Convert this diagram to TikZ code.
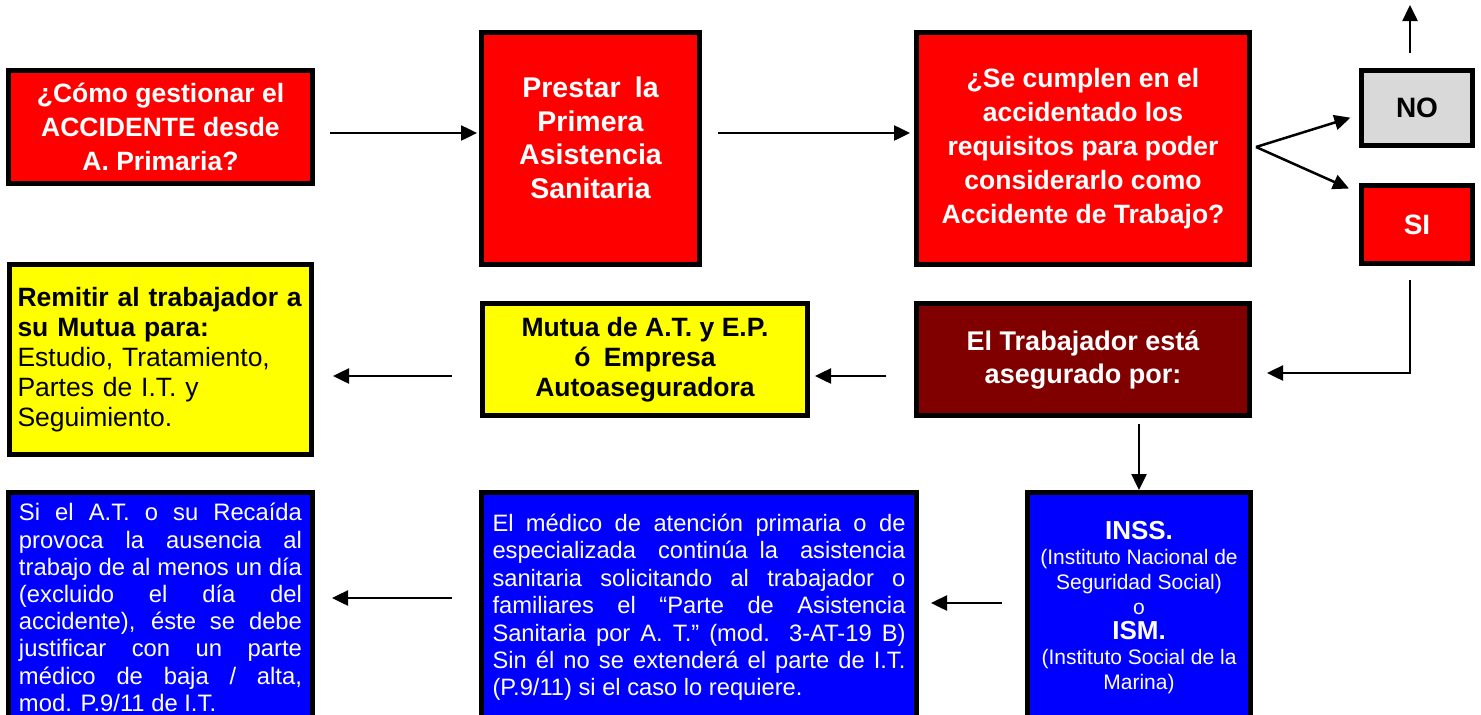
\documentclass[tikz,border=0pt]{standalone}
\usepackage{fontspec}
\setmainfont{Liberation Sans}
\usetikzlibrary{arrows.meta}
\definecolor{rojo}{HTML}{FF0000}
\definecolor{amarillo}{HTML}{FFFF00}
\definecolor{azul}{HTML}{0000FF}
\definecolor{granate}{HTML}{800000}
\definecolor{gris}{HTML}{D9D9D9}
\tikzset{
    caja/.style =   {rectangle,
                    draw=black,
                    line width=5pt,
                    inner sep=0pt,
                    align=center},
    roja/.style =   {caja,
                    fill=rojo,
                    text=white,
                    font=\fontsize{26.5}{34}\selectfont\bfseries},
    amarilla/.style = {caja,
                    fill=amarillo,
                    text=black,
                    font=\fontsize{26.5}{30}\selectfont},
    oscura/.style = {caja,
                    fill=granate,
                    text=white,
                    font=\fontsize{27}{33}\selectfont\bfseries},
    azulada/.style = {caja,
                    fill=azul,
                    text=white,
                    font=\fontsize{23.7}{27.4}\selectfont},
    gris/.style =   {caja,
                    fill=gris,
                    text=black,
                    font=\fontsize{28}{34}\selectfont\bfseries},
    -,
    flecha/.style = {->,
                    line width=2.5pt},
    >={Triangle[length=16pt,width=15pt]}}
\begin{document}
\begin{tikzpicture}[x=1pt,y=-1pt]
            \useasboundingbox (0,0) rectangle (1481,715);

            \node[roja,minimum width=304pt,minimum height=113pt]       (pregunta) at (160.5,127)    {¿Cómo gestionar el\\ACCIDENTE desde\\A. Primaria?};
            \node[roja,minimum width=218pt,minimum height=232pt,
                  font=\fontsize{28.5}{33.5}\selectfont\bfseries]      (prestar)  at (590.5,148.5)  {Prestar\enspace la\\Primera\\Asistencia\\Sanitaria\\[-11.5pt]};
            \node[roja,minimum width=333pt,minimum height=232pt]       (requisitos) at (1083,148.5) {¿Se cumplen en el\\accidentado los\\requisitos para poder\\considerarlo como\\Accidente de Trabajo?};
            \node[gris,minimum width=111pt,minimum height=75pt]        (no)       at (1417,108)     {NO};
            \node[roja,minimum width=111pt,minimum height=78pt,
                  font=\fontsize{28}{34}\selectfont\bfseries]          (si)       at (1417,224.5)   {SI};

            \node[amarilla,minimum width=302pt,minimum height=190pt,
                  text width=286pt,align=left]                         (remitir)  at (160.5,359.5)  {\textbf{Remitir al trabajador a}\\\textbf{su Mutua para:}\\Estudio, Tratamiento,\\Partes de I.T. y\\Seguimiento.};
            \node[amarilla,minimum width=325pt,minimum height=112pt,
                  font=\fontsize{26.5}{30}\selectfont\bfseries]        (mutua)    at (645,359.5)    {Mutua de A.T. y E.P.\\ó\enspace Empresa\\Autoaseguradora};
            \node[oscura,minimum width=333pt,minimum height=112pt]     (asegurado) at (1083,359.5)  {El Trabajador está\\asegurado por:};

            \node[azulada,minimum width=304pt,minimum height=230pt,
                  text width=283pt,align=justify,
                  font=\fontsize{23.8}{27.2}\selectfont]               (baja)     at (160.5,607.5)  {Si el A.T. o su Recaída\linebreak provoca la ausencia al\linebreak trabajo de al menos un día\linebreak (excluido el día del\linebreak accidente), éste se debe\linebreak justificar con un parte\linebreak médico de baja / alta,\linebreak mod. P.9/11 de I.T.};
            \node[azulada,minimum width=435pt,minimum height=230pt,
                  text width=413pt,align=justify]                      (medico)   at (699,607.5)    {El médico de atención primaria o de\linebreak especializada continúa\enspace la asistencia\linebreak sanitaria solicitando al trabajador o\linebreak familiares el “Parte de Asistencia\linebreak Sanitaria por A. T.” (mod. 3-AT-19 B)\linebreak Sin él no se extenderá el parte de I.T.\linebreak (P.9/11) si el caso lo requiere.};
            \node[azulada,minimum width=223pt,minimum height=230pt,
                  font=\fontsize{21}{25}\selectfont]                   (inss)     at (1139,607.5)   {{\fontsize{26}{25}\selectfont\bfseries INSS.}\\(Instituto Nacional de\\Seguridad Social)\\o\\{\fontsize{26}{25}\selectfont\bfseries ISM.}\\(Instituto Social de la\\Marina)};

            \coordinate (bif)    at (1256,147);
            \coordinate (salida) at (1410,5);

            \draw[flecha,shorten <=15pt,shorten >=2pt]  ([yshift=-6pt]pregunta.east) -- ([yshift=15.5pt]prestar.west);
            \draw[flecha,shorten <=16pt,shorten >=4pt]  ([yshift=15.5pt]prestar.east) -- ([yshift=15.5pt]requisitos.west);
            \draw[flecha,shorten >=9pt]                 (bif) -- ([yshift=-7pt]no.west);
            \draw[flecha,shorten >=11pt]                (bif) -- ([yshift=31.5pt]si.west);
            \draw[flecha,shorten <=15pt]                ([xshift=-7pt]no.north) -- (salida);
            \draw[flecha,shorten <=14pt,shorten >=15pt] ([xshift=-7pt]si.south) |- ([yshift=-13.5pt]asegurado.east);
            \draw[flecha,shorten <=28pt,shorten >=5pt]  ([yshift=-16.5pt]asegurado.west) -- ([yshift=-16.5pt]mutua.east);
            \draw[flecha,shorten <=28pt,shorten >=19pt] ([yshift=-16.5pt]mutua.west) -- ([yshift=-16.5pt]remitir.east);
            \draw[flecha,shorten <=6pt]                 (asegurado.south -| inss.north) -- (inss.north);
            \draw[flecha,shorten <=23pt,shorten >=12pt] ([yshift=4.5pt]inss.west) -- ([yshift=4.5pt]medico.east);
            \draw[flecha,shorten <=27pt,shorten >=17pt] ([yshift=9.5pt]medico.west) -- ([yshift=9.5pt]baja.east);
        \end{tikzpicture}
\end{document}
